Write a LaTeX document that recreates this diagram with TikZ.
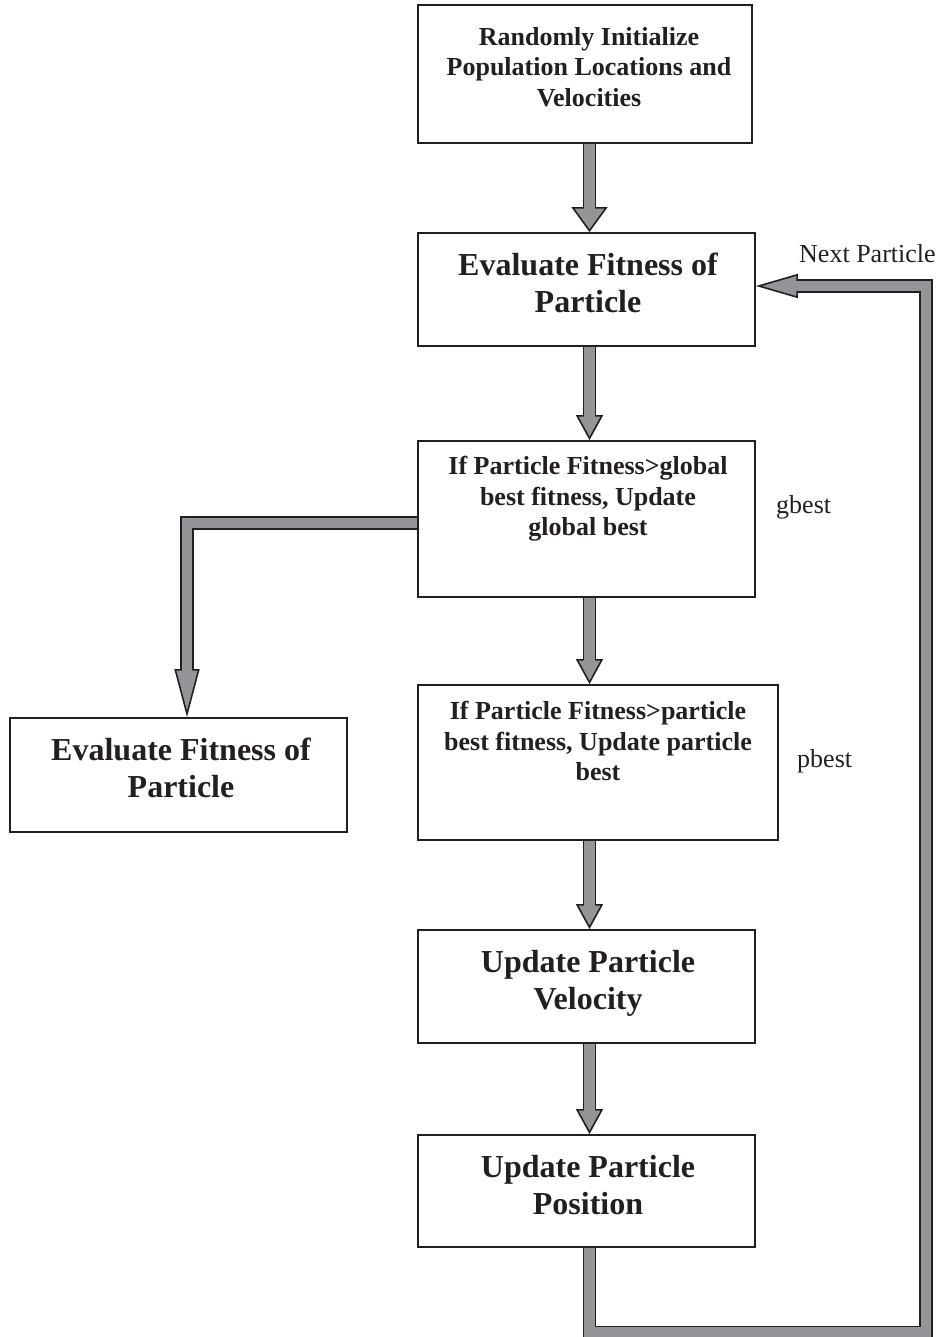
\documentclass[tikz,border=0pt]{standalone}
\usepackage{fontspec}
\setmainfont{Liberation Serif}
\usetikzlibrary{arrows.meta, positioning, backgrounds}
\definecolor{lineblk}{HTML}{231F20}
\definecolor{arrgray}{HTML}{939598}
\tikzset{
  box/.style 2 args={
    draw=lineblk, line width=1.8pt, inner sep=0pt,
    minimum width=#1, minimum height=#2
  },
  midtxt/.style={
    font=\fontsize{26}{30.5}\selectfont\bfseries, align=center,
    inner sep=0pt, text=lineblk
  },
  bigtxt/.style={
    font=\fontsize{32}{37}\selectfont\bfseries, align=center,
    inner sep=0pt, text=lineblk
  },
  note/.style={font=\fontsize{26}{30}\selectfont, inner sep=0pt, text=lineblk, anchor=base west},
  flow/.style 2 args={
    draw=lineblk, line width=13.5pt,
    -{Triangle[length=#1, width=#2, fill=arrgray, line width=1.6pt]},
    postaction={draw=arrgray, line width=10.3pt, -, shorten >=#1-3pt}
  }
}

\begin{document}
\begin{tikzpicture}[x=1pt, y=-1pt]
  \useasboundingbox (0,0) rectangle (939,1337);
  \coordinate (spine) at (589.5,0);
  \coordinate (loopturn) at (926,1332.5);

  % boxes
  \node[box={334pt}{138pt}] (init) at (585,74) {};
  \node[box={337pt}{113pt}] (eval) at (586.5,289.5) {};
  \node[box={337pt}{156pt}] (gbest) at (586.5,519) {};
  \node[box={337pt}{114pt}] (evalleft) at (178.5,775) {};
  \node[box={360pt}{155pt}] (pbest) at (598,762.5) {};
  \node[box={337pt}{113pt}] (vel) at (586.5,986.5) {};
  \node[box={337pt}{112pt}] (pos) at (586.5,1191) {};

  % texts
  \node[midtxt, below=23pt of init.north, xshift=4pt] (init-t)
    {Randomly Initialize\\Population Locations and\\Velocities};
  \node[bigtxt, below=21pt of eval.north, xshift=1.5pt] (eval-t)
    {Evaluate Fitness of\\Particle};
  \node[midtxt, below=16pt of gbest.north, xshift=1.5pt] (gbest-t)
    {If Particle Fitness>global\\best fitness, Update\\global best};
  \node[bigtxt, below=21pt of evalleft.north, xshift=2.5pt] (evalleft-t)
    {Evaluate Fitness of\\Particle};
  \node[midtxt, below=17pt of pbest.north] (pbest-t)
    {If Particle Fitness>particle\\best fitness, Update particle\\best};
  \node[bigtxt, below=21pt of vel.north, xshift=1.5pt] (vel-t)
    {Update Particle\\Velocity};
  \node[bigtxt, below=21pt of pos.north, xshift=1.5pt] (pos-t)
    {Update Particle\\Position};

  \node[note] (nextlbl) at (799,263) {Next Particle};
  \node[note] (gbestlbl) at (776,513) {gbest};
  \node[note] (pbestlbl) at (797,767) {pbest};

  % connectors
  \begin{scope}[on background layer]
    \draw[flow={25pt}{36pt}] (init.south -| spine) -- (eval.north -| spine);
    \draw[flow={25pt}{27pt}] (eval.south -| spine) -- (gbest.north -| spine);
    \draw[flow={25pt}{27pt}] (gbest.south -| spine) -- (pbest.north -| spine);
    \draw[flow={25pt}{27pt}] (pbest.south -| spine) -- (vel.north -| spine);
    \draw[flow={25pt}{27pt}] (vel.south -| spine) -- (pos.north -| spine);
    \draw[flow={48pt}{25pt}] ([yshift=-4pt]gbest.west) -| ([xshift=8.5pt]evalleft.north);
    \draw[flow={42pt}{24pt}] (pos.south -| spine) |- (loopturn) |- ([yshift=3.5pt]eval.east);
  \end{scope}
\end{tikzpicture}
\end{document}
